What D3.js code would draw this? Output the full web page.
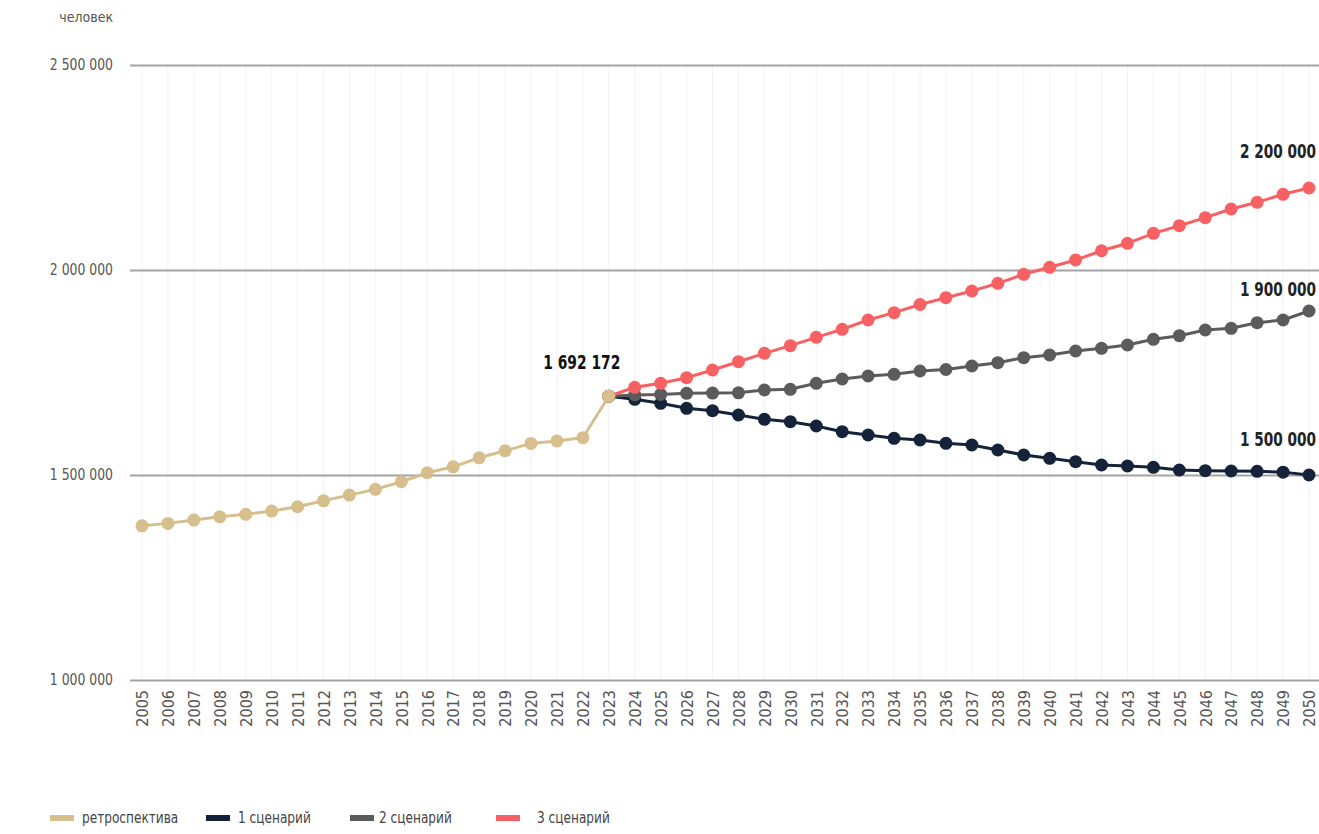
<!DOCTYPE html>
<html>
<head>
<meta charset="utf-8">
<script src="https://cdn.jsdelivr.net/npm/d3@7"></script>
<style>
  html, body { margin: 0; padding: 0; background: #fff; }
  svg { display: block; }
  text { font-family: "DejaVu Sans Condensed", "DejaVu Sans", sans-serif; }
</style>
</head>
<body>
<svg id="chart" width="1319" height="834"></svg>
<script>
const retroYears = d3.range(2005, 2024);
const retroValues = [1376000, 1382000, 1390000, 1398000, 1404000, 1412000, 1422500, 1437000, 1451000, 1465000, 1483500, 1505500, 1520000, 1542000, 1559000, 1577000, 1583000, 1591000, 1692172];

const scenarioYears = d3.range(2023, 2051);
const scenario1 = [1692172, 1684600, 1674900, 1662700, 1656800, 1646300, 1635900, 1630000, 1619500, 1605600, 1597600, 1589500, 1585400, 1577300, 1573200, 1561000, 1548800, 1540700, 1532400, 1524400, 1522000, 1518800, 1512200, 1510500, 1509800, 1509000, 1507000, 1500000];
const scenario2 = [1692172, 1695100, 1696500, 1699300, 1699800, 1700500, 1707300, 1709000, 1723700, 1734100, 1741500, 1745600, 1753700, 1757300, 1765900, 1773900, 1786100, 1792700, 1802400, 1809000, 1817100, 1831000, 1839800, 1853700, 1857800, 1871500, 1878000, 1900000];
const scenario3 = [1692172, 1713900, 1723700, 1737300, 1756100, 1776300, 1796800, 1815400, 1835800, 1855400, 1878000, 1895900, 1915900, 1932400, 1948800, 1967500, 1989500, 2006600, 2024400, 2047000, 2065100, 2089500, 2108000, 2127600, 2148800, 2165100, 2184600, 2200000];

const yTicks = [1000000, 1500000, 2000000, 2500000];
const allYears = d3.range(2005, 2051);
const unitLabel = "человек";
const legendLabels = ["ретроспектива", "1 сценарий", "2 сценарий", "3 сценарий"];
const colors = ["#d6bf8c", "#14233a", "#5b5b5b", "#f76163"];
const endLabels = [
  {year: 2023, value: 1692172, text: "1 692 172"},
  {year: 2050, value: 2200000, text: "2 200 000"},
  {year: 2050, value: 1900000, text: "1 900 000"},
  {year: 2050, value: 1500000, text: "1 500 000"}
];

const svg = d3.select("#chart");
const x = d3.scalePoint().domain(allYears).range([142, 1309]);
const y = d3.scaleLinear().domain([1000000, 2500000]).range([680, 65]);
const fmt = v => d3.format(",")(v).replace(/,/g, " ");

function ctext(parent, tx, ty, sx, str) {
  return parent.append("text")
    .attr("transform", `translate(${tx},${ty}) scale(${sx},1)`)
    .text(str);
}

// vertical faint gridlines
svg.append("g").selectAll("line").data(allYears).join("line")
  .attr("x1", d => x(d)).attr("x2", d => x(d))
  .attr("y1", y(2500000)).attr("y2", y(1000000))
  .attr("stroke", "#f2f2f2").attr("stroke-width", 1);

// horizontal gridlines
const yAxis = svg.append("g")
  .attr("transform", "translate(130,0)")
  .call(d3.axisRight(y).tickValues(yTicks).tickSize(1189).tickFormat(""));
yAxis.select(".domain").remove();
yAxis.selectAll(".tick line").attr("stroke", "#a3a3a3").attr("stroke-width", 2);

// y labels
const yl = svg.append("g").attr("font-size", 15).attr("fill", "#555").attr("text-anchor", "end");
yTicks.forEach(v => ctext(yl, 113, y(v) + 5, 0.92, fmt(v)));

ctext(svg, 113, 22, 1.0, unitLabel).attr("text-anchor", "end")
  .attr("font-size", 14).attr("fill", "#555");

// x axis labels
const xAxis = svg.append("g").attr("transform", "translate(0,688)")
  .call(d3.axisBottom(x).tickSize(0).tickPadding(0));
xAxis.select(".domain").remove();
xAxis.selectAll("text")
  .attr("transform", "rotate(-90)")
  .attr("text-anchor", "end")
  .attr("x", -2).attr("y", 0).attr("dy", "0.36em")
  .attr("font-size", 16).attr("fill", "#555")
  .style("font-family", "'DejaVu Sans Condensed', 'DejaVu Sans', sans-serif");

const line = d3.line().x(d => x(d[0])).y(d => y(d[1]));

function drawSeries(years, values, color) {
  const pts = years.map((yr, i) => [yr, values[i]]);
  const g = svg.append("g");
  g.append("path").datum(pts).attr("d", line)
    .attr("fill", "none").attr("stroke", color).attr("stroke-width", 3);
  g.selectAll("circle").data(pts).join("circle")
    .attr("cx", d => x(d[0])).attr("cy", d => y(d[1])).attr("r", 6.5)
    .attr("fill", color);
}
drawSeries(scenarioYears, scenario1, colors[1]);
drawSeries(scenarioYears, scenario2, colors[2]);
drawSeries(scenarioYears, scenario3, colors[3]);
drawSeries(retroYears, retroValues, colors[0]);

// value labels
const vl = svg.append("g").attr("font-size", 20).attr("font-weight", "bold");
ctext(vl, x(2023) - 27, y(1692172) - 27, 0.77, endLabels[0].text)
  .attr("text-anchor", "middle").attr("fill", "#111");
endLabels.slice(1).forEach((d, i) => {
  ctext(vl, 1316, y(d.value) - [30, 15, 29][i], 0.76, d.text)
    .attr("text-anchor", "end").attr("fill", "#222");
});

// legend
const legendX = [50, 206, 350, 496];
const legendTextX = [82, 238, 379, 537];
const lg = svg.append("g").attr("font-size", 15).attr("fill", "#444");
legendLabels.forEach((lab, i) => {
  lg.append("rect").attr("x", legendX[i]).attr("y", 815).attr("width", 24).attr("height", 6)
    .attr("fill", colors[i]);
  ctext(lg, legendTextX[i], 823, 0.9, lab);
});
</script>
</body>
</html>
